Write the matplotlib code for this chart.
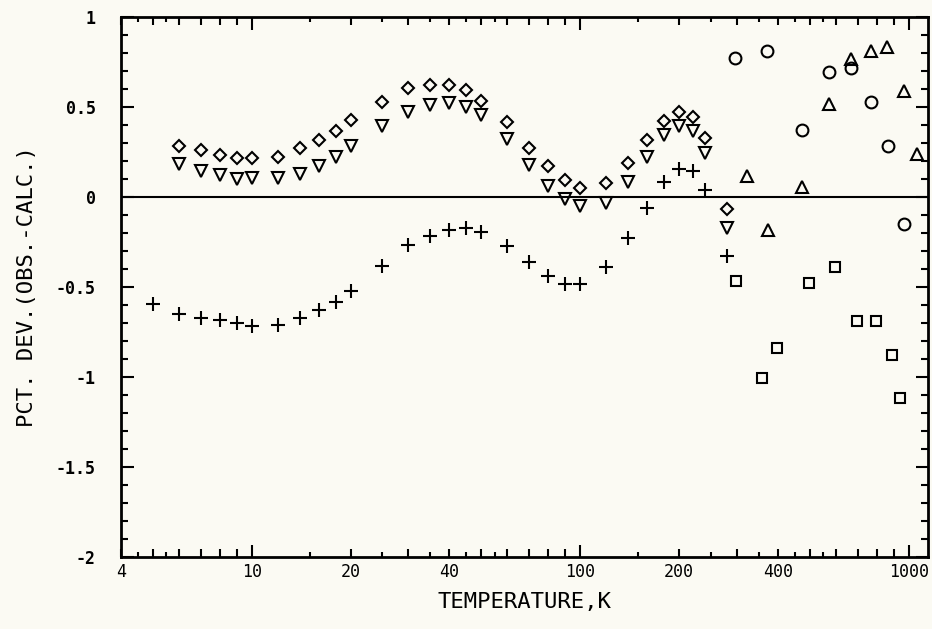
import numpy as np
import matplotlib
matplotlib.use('Agg')
from matplotlib import pyplot as plt
from matplotlib.ticker import FixedLocator, FuncFormatter

# diamonds
t_dia = [6, 7, 8, 9, 10, 12, 14, 16, 18, 20, 25, 30, 35, 40, 45, 50, 60, 70,
         80, 90, 100, 120, 140, 160, 180, 200, 220, 240, 280]
d_dia = [0.282, 0.263, 0.235, 0.215, 0.218, 0.224, 0.272, 0.317, 0.365, 0.428,
         0.526, 0.606, 0.624, 0.621, 0.596, 0.535, 0.415, 0.272,
         0.174, 0.094, 0.050, 0.076, 0.189, 0.317, 0.421, 0.474, 0.443, 0.328, -0.067]

# down triangles
t_tri = t_dia
d_tri = [0.183, 0.146, 0.122, 0.100, 0.104, 0.104, 0.128, 0.171, 0.221, 0.285,
         0.396, 0.474, 0.511, 0.522, 0.498, 0.456, 0.322, 0.178,
         0.063, -0.011, -0.052, -0.033, 0.085, 0.220, 0.344, 0.396, 0.365, 0.243, -0.174]

# plus
t_pl = [5, 6, 7, 8, 9, 10, 12, 14, 16, 18, 20, 25, 30, 35, 40, 45, 50, 60, 70,
        80, 90, 100, 120, 140, 160, 180, 200, 220, 240, 280]
d_pl = [-0.594, -0.648, -0.672, -0.682, -0.698, -0.714, -0.711, -0.674, -0.628,
        -0.582, -0.521, -0.382, -0.267, -0.215, -0.182, -0.171, -0.193, -0.274,
        -0.363, -0.437, -0.483, -0.483, -0.387, -0.230, -0.061, 0.085, 0.156,
        0.144, 0.039, -0.330]

# circles
t_circ = [295, 370, 472, 571, 668, 767, 866, 969]
d_circ = [0.770, 0.809, 0.374, 0.696, 0.717, 0.526, 0.283, -0.150]

# up triangles
t_up = [322, 372, 472, 571, 668, 767, 862, 969, 1060]
d_up = [0.118, -0.182, 0.054, 0.517, 0.767, 0.813, 0.835, 0.591, 0.239]

# squares
t_sq = [299, 358, 397, 496, 598, 697, 795, 889, 940]
d_sq = [-0.467, -1.006, -0.839, -0.478, -0.391, -0.689, -0.687, -0.876, -1.118]

x_labels = [4, 10, 20, 40, 100, 200, 400, 1000]

bg = '#fbfaf3'
fig = plt.figure(figsize=(9.32, 6.29), dpi=100, facecolor=bg)
ax = fig.add_axes([0.1298, 0.1145, 0.8659, 0.8585])
ax.set_facecolor(bg)

mk = dict(linestyle='none', markerfacecolor='none', markeredgecolor='black',
          markeredgewidth=1.5, color='black')
ax.plot(t_dia, d_dia, marker='D', markersize=6.5, **mk)
ax.plot(t_tri, d_tri, marker='v', markersize=8.5, **mk)
ax.plot(t_pl, d_pl, marker='+', markersize=10, **mk)
ax.plot(t_circ, d_circ, marker='o', markersize=8.5, **mk)
ax.plot(t_up, d_up, marker='^', markersize=8.5, **mk)
ax.plot(t_sq, d_sq, marker='s', markersize=7.5, **mk)

ax.axhline(0, color='black', lw=1.5)

ax.set_xscale('log')
ax.set_xlim(4, 1145)
ax.set_ylim(-2, 1)

# x ticks: decades long, integer multiples medium, half-values short
major = [10, 100, 1000]
minor = []
for dec in [1, 10, 100]:
    for m in [1.5, 2, 2.5, 3, 3.5, 4, 4.5, 5, 5.5, 6, 7, 8, 9]:
        v = m * dec
        if 4 <= v <= 1145 and v not in major:
            minor.append(v)
ax.xaxis.set_major_locator(FixedLocator(major))
ax.xaxis.set_minor_locator(FixedLocator(minor))


def lab(v, p):
    r = int(round(v))
    return str(r) if abs(v - r) < 1e-6 and r in x_labels else ''


ax.xaxis.set_major_formatter(FuncFormatter(lab))
ax.xaxis.set_minor_formatter(FuncFormatter(lab))

ax.set_yticks(np.arange(-2, 1.01, 0.5))
ax.set_yticks(np.arange(-2, 1.01, 0.1), minor=True)
ax.set_yticklabels(['-2', '-1.5', '-1', '-0.5', '0', '0.5', '1'])

ax.tick_params(which='both', direction='in', top=True, right=True, width=1.5, color='black')
ax.tick_params(axis='y', which='major', length=9, pad=18)
ax.tick_params(axis='y', which='minor', length=5)
ax.tick_params(axis='x', which='major', length=9, pad=4)
ax.tick_params(axis='x', which='minor', length=6, pad=4)

for t, v in zip(ax.xaxis.get_minor_ticks(), minor):
    if abs(v / 10 ** np.floor(np.log10(v)) % 1 - 0.5) < 1e-6:
        t.tick1line.set_markersize(3.5)
        t.tick2line.set_markersize(3.5)

for lbl in ax.get_yticklabels():
    lbl.set_family('DejaVu Sans Mono')
    lbl.set_fontweight('bold')
    lbl.set_fontsize(12)
for lbl in ax.get_xticklabels(which='both'):
    lbl.set_family('DejaVu Sans Mono')
    lbl.set_fontsize(12)

for s in ax.spines.values():
    s.set_linewidth(2)

ax.set_xlabel('TEMPERATURE,K', family='DejaVu Sans Mono', fontsize=16, labelpad=8)
ax.set_ylabel('PCT. DEV.(OBS.-CALC.)', family='DejaVu Sans Mono', fontsize=16, labelpad=14)

fig.savefig('out.png', dpi=100, facecolor=bg)
